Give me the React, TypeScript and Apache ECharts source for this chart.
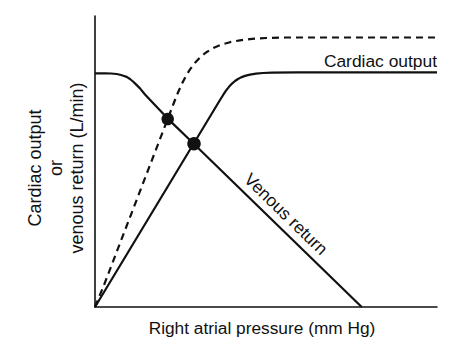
import React, { useEffect, useRef } from "react";
import * as echarts from "echarts";

// Right atrial pressure (x, 0-100 relative) vs flow (y, 0-100 relative)
const cardiacOutput: [number, number][] = [
  [0, 0], [36.55, 71.13], [37.43, 72.78], [38.3, 74.33], [39.18, 75.67],
  [40.06, 76.77], [40.94, 77.66], [41.81, 78.35], [42.69, 78.9], [43.86, 79.42],
  [45.32, 79.86], [47.08, 80.21], [49.12, 80.41], [51.75, 80.55], [59.06, 80.62],
  [100, 80.6],
];
const cardiacOutputRaised: [number, number][] = [
  [0, 0], [2.63, 7.56], [21.93, 66.67], [23.1, 70.27], [24.27, 73.71],
  [25.44, 76.8], [26.61, 79.45], [27.78, 81.65], [29.24, 83.92], [30.7, 85.74],
  [32.46, 87.46], [34.5, 88.93], [36.84, 90.1], [39.47, 91.0], [42.4, 91.65],
  [45.91, 92.13], [50.0, 92.44], [55.56, 92.61], [100, 92.61],
];
const venousReturn: [number, number][] = [
  [0, 80.31], [2.92, 80.31], [4.68, 80.24], [6.35, 80.07], [7.6, 79.73],
  [8.48, 79.38], [9.27, 79.07], [10.23, 78.35], [11.11, 77.49], [11.99, 76.49],
  [13.16, 75.12], [14.62, 73.02], [21.26, 64.74], [28.95, 56.01], [77.98, 0],
];
const equilibria: [number, number][] = [[21.26, 64.6], [28.95, 56.1]];
const equilibriumSizes = [12.5, 13.5];

const xTitle = "Right atrial pressure (mm Hg)";
const yTitle = "Cardiac output\nor\nvenous return (L/min)";
const coLabel = "Cardiac output";
const vrLabel = "Venous return";

const FONT = "'Liberation Sans', Arial, Helvetica, sans-serif";
const INK = "#111";

export default function App() {
  const ref = useRef<HTMLDivElement>(null);
  useEffect(() => {
    if (!ref.current) return;
    const chart = echarts.init(ref.current, undefined, { renderer: "svg" });
    const axisBase = {
      type: "value" as const,
      min: 0,
      max: 100,
      axisLabel: { show: false },
      axisTick: { show: false },
      splitLine: { show: false },
      axisLine: { show: true, onZero: false, lineStyle: { color: INK, width: 1.6 } },
    };
    const lineSeries = (data: [number, number][], dashed = false) => ({
      type: "line" as const,
      data,
      showSymbol: false,
      smooth: false,
      lineStyle: { color: INK, width: 2.2, type: dashed ? [7, 5] : "solid", join: "round", cap: "butt" },
    });
    chart.setOption({
      animation: false,
      backgroundColor: "#fff",
      grid: { left: 95, right: 37, top: 16, bottom: 47 },
      xAxis: { ...axisBase },
      yAxis: { ...axisBase },
      graphic: [
        {
          type: "text",
          x: 262,
          y: 327.5,
          style: { text: xTitle, font: `17.3px ${FONT}`, fill: INK, align: "center", verticalAlign: "middle" },
        },
        {
          type: "text",
          x: 56,
          y: 168,
          rotation: Math.PI / 2,
          style: { text: yTitle, font: `18px ${FONT}`, fill: INK, align: "center", verticalAlign: "middle", lineHeight: 21 },
        },
        {
          type: "text",
          x: 437,
          y: 61,
          style: { text: coLabel, font: `17.4px ${FONT}`, fill: INK, align: "right", verticalAlign: "middle" },
        },
        {
          type: "text",
          x: 286,
          y: 214,
          rotation: -Math.atan(0.972),
          style: { text: vrLabel, font: `17.4px ${FONT}`, fill: INK, align: "center", verticalAlign: "middle" },
        },
      ],
      series: [
        lineSeries(cardiacOutput),
        lineSeries(cardiacOutputRaised, true),
        lineSeries(venousReturn),
        {
          type: "scatter",
          data: equilibria,
          symbolSize: (_v: unknown, p: { dataIndex: number }) => equilibriumSizes[p.dataIndex],
          itemStyle: { color: INK, opacity: 1 },
          z: 5,
        },
      ],
    });
    return () => chart.dispose();
  }, []);
  return (
    <div
      ref={ref}
      style={{ position: "fixed", left: 0, top: 0, width: 474, height: 354, background: "#fff" }}
    />
  );
}
